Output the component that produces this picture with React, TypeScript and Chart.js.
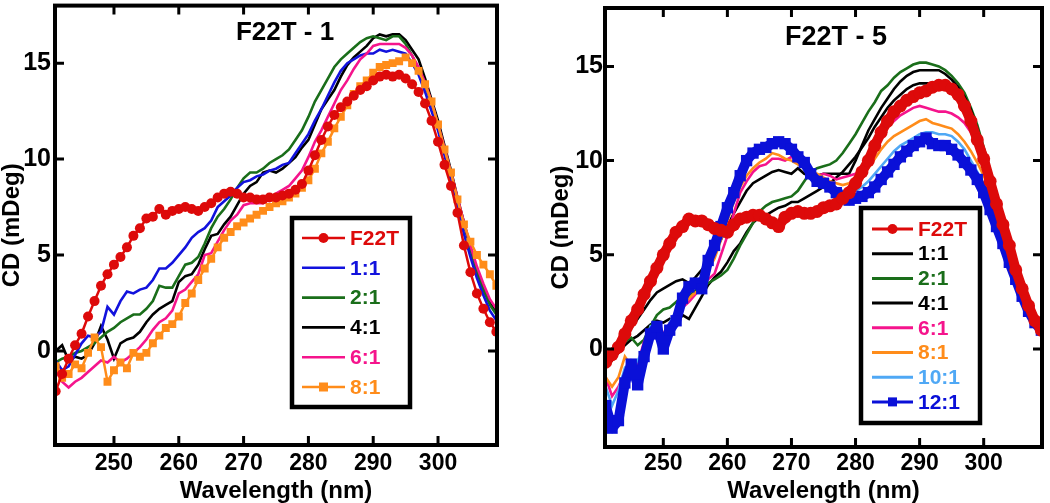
import React, { useEffect, useRef } from "react";
import { Chart, registerables } from "chart.js";

Chart.register(...registerables);

// ---------------- DATA ----------------
const wavelengths = [
  241, 242, 243, 244, 245, 246, 247, 248, 249, 250,
  251, 252, 253, 254, 255, 256, 257, 258, 259, 260,
  261, 262, 263, 264, 265, 266, 267, 268, 269, 270,
  271, 272, 273, 274, 275, 276, 277, 278, 279, 280,
  281, 282, 283, 284, 285, 286, 287, 288, 289, 290,
  291, 292, 293, 294, 295, 296, 297, 298, 299, 300,
  301, 302, 303, 304, 305, 306, 307, 308, 309,
];
const xTickValues = [250, 260, 270, 280, 290, 300];
const yTickValues = [0, 5, 10, 15];

// Left panel: F22T - 1
const leftTitle = "F22T - 1";
const leftLabels = ["F22T", "1:1", "2:1", "4:1", "6:1", "8:1"];
const leftF22T = [
  -2.1, -1.2, -0.4, 0.3, 0.9, 1.8, 2.6, 3.4, 4.0, 4.5,
  4.9, 5.4, 6.0, 6.4, 6.9, 7.0, 7.4, 7.1, 7.3, 7.4,
  7.5, 7.4, 7.3, 7.5, 7.7, 8.0, 8.2, 8.3, 8.2, 8.0,
  8.0, 7.9, 7.9, 8.0, 8.0, 8.1, 8.2, 8.4, 8.7, 9.4,
  10.2, 11.0, 11.7, 12.3, 12.7, 13.0, 13.3, 13.6, 13.8, 14.1,
  14.3, 14.4, 14.3, 14.4, 14.2, 13.9, 13.5, 12.9, 12.0, 10.9,
  9.7, 8.6, 7.2, 5.5, 4.1, 3.0, 2.2, 1.5, 1.0,
];
const left1to1 = [
  -0.5, -1.0, -0.8, -0.2, 0.4, 0.8, 0.7, 1.0, 2.3, 1.9,
  2.6, 3.1, 3.0, 3.2, 3.3, 3.7, 4.3, 4.3, 4.6, 5.0,
  5.4, 5.9, 6.2, 6.4, 6.8, 7.5, 7.8, 8.1, 8.5, 8.8,
  8.9, 9.1, 9.2, 9.4, 9.5, 9.7, 9.8, 10.3, 10.8, 11.3,
  12.0, 12.6, 13.3, 14.0, 14.6, 15.0, 15.2, 15.4, 15.5, 15.5,
  15.7, 15.6, 15.7, 15.6, 15.5, 15.0, 14.4, 13.5, 12.5, 11.5,
  10.2, 8.9, 7.5, 6.1, 4.9, 3.8, 2.9, 2.1, 1.6,
];
const left2to1 = [
  -0.6, -0.4, -0.3, -0.1, 0.0, 0.2, 0.4, 0.7, 1.0, 1.2,
  1.5, 1.7, 1.9, 1.9, 2.2, 2.6, 3.4, 3.3, 3.3, 3.9,
  4.5, 4.6, 4.9, 5.6, 6.4, 7.0, 7.4, 7.9, 8.5, 9.0,
  9.3, 9.3, 9.5, 9.8, 10.0, 10.2, 10.5, 11.0, 11.5, 12.2,
  13.0, 13.6, 14.2, 14.8, 15.2, 15.5, 15.8, 16.1, 16.3, 16.4,
  16.3, 16.2, 16.4, 16.4, 16.0, 15.4, 14.7, 13.9, 12.9, 11.8,
  10.6, 9.3, 7.9, 6.6, 5.3, 4.1, 3.2, 2.4, 1.9,
];
const left4to1 = [
  0.0, 0.3, -0.5, -0.3, -0.4, -0.2, 0.4, 1.3, 0.6, -0.4,
  0.4, 0.6, 0.7, 1.0, 1.5, 1.9, 2.2, 2.4, 2.6, 3.6,
  3.9, 4.0, 4.5, 5.3, 6.0, 6.1, 6.6, 7.0, 7.6, 8.2,
  8.6, 8.8, 9.3, 9.4, 9.3, 9.5, 9.8, 10.1, 10.6, 11.0,
  11.8, 12.6, 13.1, 13.6, 14.3, 14.9, 15.3, 15.6, 15.9, 16.3,
  16.5, 16.4, 16.5, 16.5, 16.2, 15.7, 15.2, 14.2, 13.1, 12.0,
  10.7, 9.4, 8.0, 6.7, 5.4, 4.2, 3.2, 2.5, 2.0,
];
const left6to1 = [
  -1.0, -1.6, -1.9, -1.6, -1.4, -1.1, -0.8, -0.5, -0.6, -0.3,
  -0.6, -0.4, -0.1, 0.2, 0.6, 1.1, 1.5, 1.7, 2.1, 3.0,
  3.2, 3.6, 4.0, 5.0, 5.1, 5.7, 6.3, 6.8, 7.1, 7.6,
  7.7, 7.7, 7.7, 7.9, 8.2, 8.4, 8.6, 9.0, 9.4, 10.1,
  10.9, 11.5, 12.2, 12.9, 13.6, 14.1, 14.7, 15.2, 15.5, 15.9,
  16.0, 16.0, 16.0, 16.0, 15.8, 15.4, 14.8, 14.0, 13.0, 11.8,
  10.6, 9.3, 8.0, 6.7, 5.5, 4.4, 3.5, 2.7, 2.2,
];
const left8to1 = [
  -0.8, -1.4, -1.2, -0.7, -0.9, -0.1, 0.7, 0.2, -1.6, -1.0,
  -0.6, -0.9, -0.1, -0.3, -0.1, 0.4, 0.8, 1.2, 1.4, 1.8,
  2.5, 3.0, 3.7, 4.3, 4.8, 5.4, 5.9, 6.2, 6.5, 6.7,
  6.9, 7.1, 7.3, 7.5, 7.7, 7.8, 8.0, 8.2, 8.5, 8.9,
  9.5, 10.3, 10.9, 11.6, 12.2, 12.8, 13.4, 13.8, 14.1, 14.5,
  14.8, 14.9, 15.0, 15.1, 15.3, 15.0, 14.6, 13.9, 13.0, 11.8,
  10.5, 9.3, 7.9, 6.6, 5.7, 5.0, 4.5, 4.0, 3.4,
];

// Right panel: F22T - 5
const rightTitle = "F22T - 5";
const rightLabels = ["F22T", "1:1", "2:1", "4:1", "6:1", "8:1", "10:1", "12:1"];
const rightF22T = [
  -0.7, -0.3, 0.1, 0.8, 1.5, 2.1, 2.9, 3.6, 4.3, 5.0,
  5.6, 6.2, 6.5, 6.9, 6.8, 6.8, 6.6, 6.4, 6.3, 6.2,
  6.6, 6.9, 7.0, 7.1, 7.1, 6.9, 6.7, 6.5, 7.0, 7.2,
  7.3, 7.2, 7.2, 7.3, 7.5, 7.6, 7.7, 8.0, 8.3, 8.8,
  9.4, 10.0, 10.8, 11.5, 12.1, 12.6, 12.9, 13.2, 13.4, 13.6,
  13.7, 13.9, 14.0, 14.0, 13.8, 13.5, 12.9, 12.1, 11.1, 10.1,
  8.9, 7.7, 6.6, 5.5, 4.2, 3.2, 2.3, 1.5, 1.0,
];
const right1to1 = [
  -1.0, -0.6, -0.2, 0.2, 0.5, 0.7, 1.0, 1.3, 1.5, 1.4,
  1.6, 1.3, 1.8, 1.6, 2.2, 2.8, 3.4, 3.8, 4.1, 4.6,
  5.2, 5.6, 6.2, 6.7, 7.0, 7.1, 7.3, 7.5, 7.6, 7.8,
  7.8, 8.0, 8.2, 8.4, 8.6, 8.8, 9.1, 9.4, 9.8, 10.2,
  10.7, 11.2, 11.8, 12.3, 12.8, 13.2, 13.5, 13.8, 14.0, 14.1,
  14.1, 14.1, 14.1, 14.0, 13.8, 13.5, 13.0, 12.2, 11.2, 10.1,
  8.9, 7.7, 6.5, 5.3, 4.2, 3.2, 2.3, 1.6, 1.1,
];
const right2to1 = [
  -0.6, -0.2, 0.1, 0.4, 0.6, 0.2, 0.5, 1.2, 1.8, 2.1,
  2.2, 2.5, 2.8, 2.8, 3.1, 3.3, 3.5, 3.7, 3.9, 4.2,
  4.8, 5.5, 6.1, 6.7, 7.3, 7.6, 7.8, 7.9, 8.0, 8.1,
  8.4, 8.9, 9.4, 9.6, 9.7, 9.8, 10.0, 10.4, 10.9, 11.4,
  12.0, 12.6, 13.1, 13.7, 14.0, 14.4, 14.7, 14.9, 15.1, 15.2,
  15.2, 15.1, 15.0, 14.8, 14.5, 14.1, 13.6, 12.8, 11.9, 10.7,
  9.5, 8.1, 6.8, 5.5, 4.3, 3.2, 2.3, 1.5, 1.0,
];
const right4to1 = [
  -0.5, 0.0, 0.4, 0.7, 1.1, 1.6, 2.1, 2.6, 3.0, 3.2,
  3.4, 3.6, 3.7, 3.5, 3.8, 4.2, 4.6, 5.1, 5.8, 6.5,
  7.2, 7.8, 8.4, 8.8, 9.0, 9.2, 9.4, 9.5, 9.4, 9.3,
  9.6, 9.3, 9.2, 9.2, 9.3, 9.3, 9.3, 9.3, 9.3, 10.0,
  10.8, 11.6, 12.2, 12.8, 13.3, 13.8, 14.2, 14.5, 14.7, 14.8,
  14.8, 14.8, 14.8, 14.6, 14.3, 13.9, 13.4, 12.7, 11.7, 10.5,
  9.2, 7.9, 6.6, 5.4, 4.2, 3.1, 2.2, 1.5, 1.1,
];
const right6to1 = [
  -1.5, -2.5, -2.0, -1.2, -0.6, -0.8, 0.4, 0.9, 1.0, 0.8,
  1.4, 1.8, 2.2, 2.5, 2.9, 3.3, 3.7, 4.0, 5.0, 6.0,
  7.2, 8.3, 8.9, 9.4, 9.7, 9.8, 10.1, 10.1, 10.0, 10.2,
  9.9, 9.6, 9.3, 9.2, 9.3, 9.2, 9.0, 9.1, 9.2, 9.3,
  9.6, 10.0, 10.6, 11.2, 11.8, 12.1, 12.4, 12.6, 12.8, 12.9,
  12.8, 12.7, 12.6, 12.6, 12.5, 12.3, 12.0, 11.5, 10.8, 10.0,
  8.9, 7.8, 6.6, 5.4, 4.3, 3.2, 2.3, 1.6, 1.1,
];
const right8to1 = [
  -1.5, -2.0, -1.5, -0.4, -0.9, -1.2, 0.2, 0.7, 1.1, 0.5,
  1.2, 1.7, 2.3, 2.7, 3.0, 3.1, 4.2, 4.8, 5.8, 6.8,
  7.8, 8.6, 9.2, 9.6, 9.9, 10.1, 10.4, 10.3, 10.1, 10.0,
  9.8, 9.6, 9.4, 9.3, 9.1, 8.9, 8.8, 8.7, 8.8, 9.0,
  9.3, 9.6, 10.1, 10.6, 11.0, 11.3, 11.5, 11.7, 11.9, 12.1,
  12.2, 12.0, 11.9, 11.8, 11.7, 11.4, 11.0, 10.5, 9.9, 9.2,
  8.3, 7.3, 6.3, 5.2, 4.1, 3.1, 2.3, 1.6, 1.1,
];
const right10to1 = [
  -2.0, -3.0, -2.2, -1.0, -1.2, -0.6, 0.0, 1.2, 1.0, 0.6,
  1.4, 2.0, 2.4, 3.0, 3.3, 3.6, 4.6, 5.6, 6.6, 7.6,
  8.5, 9.3, 10.0, 10.4, 10.7, 10.9, 11.0, 11.0, 10.8, 10.5,
  10.1, 9.8, 9.4, 9.1, 8.9, 8.7, 8.5, 8.4, 8.3, 8.4,
  8.6, 8.9, 9.3, 9.7, 10.1, 10.5, 10.8, 11.0, 11.2, 11.4,
  11.5, 11.5, 11.4, 11.4, 11.3, 11.0, 10.6, 10.0, 9.4, 8.7,
  7.8, 6.8, 5.8, 4.8, 3.8, 2.9, 2.1, 1.5, 1.1,
];
const right12to1 = [
  -3.0, -4.2, -3.8, -1.8, -0.8, -1.9, -0.4, 0.8, 1.2, 0.0,
  1.0, 1.5, 2.7, 3.3, 3.5, 3.2, 4.7, 5.5, 6.5, 7.5,
  8.3, 9.2, 10.0, 10.4, 10.6, 10.7, 10.9, 11.0, 10.9, 10.6,
  10.2, 9.9, 9.3, 8.9, 8.8, 8.6, 8.3, 8.1, 7.9, 8.0,
  8.1, 8.3, 8.6, 9.0, 9.4, 9.8, 10.2, 10.5, 10.8, 11.0,
  11.2, 10.9, 10.8, 10.8, 10.6, 10.3, 9.9, 9.5, 9.0, 8.3,
  7.4, 6.5, 5.6, 4.6, 3.7, 2.8, 2.0, 1.4, 1.0,
];

// ---------------- STYLE ----------------
const FONT = "'Liberation Sans', Arial, Helvetica, sans-serif";
const RED = "#dd0a0a";
const BLUE = "#1212dd";
const GREEN = "#1a6e1a";
const BLACK = "#000000";
const PINK = "#f5148c";
const ORANGE = "#ff8c1a";
const LIGHTBLUE = "#4fa8f5";
const DEEPBLUE = "#0a10d8";

type Kind = "line" | "circle" | "square" | "bandCircle" | "bandSquare";

function makeDataset(label: string, values: number[], color: string, kind: Kind, order: number) {
  const ds: any = {
    label,
    data: wavelengths.map((x, i) => ({ x, y: values[i] })),
    borderColor: color,
    backgroundColor: color,
    pointBackgroundColor: color,
    pointBorderColor: color,
    pointBorderWidth: 0,
    borderWidth: 2.6,
    pointRadius: 0,
    pointHoverRadius: 0,
    tension: 0,
    fill: false,
    order,
    kind,
  };
  if (kind === "circle") {
    ds.pointRadius = 5;
    ds.pointStyle = "circle";
    ds.borderWidth = 2.5;
  } else if (kind === "square") {
    ds.pointRadius = 5.6;
    ds.pointStyle = "rect";
    ds.borderWidth = 2.5;
  } else if (kind === "bandCircle") {
    ds.pointRadius = 6.5;
    ds.pointStyle = "circle";
    ds.borderWidth = 10;
    ds.borderJoinStyle = "round";
  } else if (kind === "bandSquare") {
    ds.pointRadius = 8;
    ds.pointStyle = "rect";
    ds.borderWidth = 10;
    ds.borderJoinStyle = "round";
  }
  return ds;
}

const framePlugin = {
  id: "frame",
  afterDatasetsDraw(chart: any, _args: any, opts: any) {
    const { ctx, chartArea: a, scales } = chart;
    ctx.save();
    ctx.strokeStyle = "#000";
    ctx.lineCap = "butt";
    // frame
    ctx.lineWidth = 4;
    ctx.strokeRect(a.left, a.top, a.right - a.left, a.bottom - a.top);
    // inward ticks
    const L = 9;
    ctx.lineWidth = 3;
    ctx.beginPath();
    for (const v of xTickValues) {
      const x = scales.x.getPixelForValue(v);
      ctx.moveTo(x, a.bottom);
      ctx.lineTo(x, a.bottom - L);
      ctx.moveTo(x, a.top);
      ctx.lineTo(x, a.top + L);
    }
    for (const v of yTickValues) {
      const y = scales.y.getPixelForValue(v);
      ctx.moveTo(a.left, y);
      ctx.lineTo(a.left + L, y);
      ctx.moveTo(a.right, y);
      ctx.lineTo(a.right - L, y);
    }
    ctx.stroke();

    // title inside the plot
    ctx.fillStyle = "#000";
    ctx.font = `bold ${opts.titleSize}px ${FONT}`;
    ctx.textAlign = "center";
    ctx.textBaseline = "alphabetic";
    ctx.fillText(opts.title, opts.titleX, opts.titleY + opts.titleSize * 0.358);

    // legend
    const lg = opts.legend;
    ctx.fillStyle = "#fff";
    ctx.fillRect(lg.x1, lg.y1, lg.x2 - lg.x1, lg.y2 - lg.y1);
    ctx.lineWidth = 4.5;
    ctx.strokeStyle = "#000";
    ctx.strokeRect(lg.x1, lg.y1, lg.x2 - lg.x1, lg.y2 - lg.y1);
    const dsets = chart.data.datasets;
    dsets.forEach((ds: any, i: number) => {
      const y = lg.rowY + i * lg.rowStep;
      ctx.strokeStyle = ds.borderColor;
      ctx.fillStyle = ds.borderColor;
      ctx.lineWidth = lg.lineWidth;
      ctx.beginPath();
      ctx.moveTo(lg.s1, y);
      ctx.lineTo(lg.s2, y);
      ctx.stroke();
      const mx = (lg.s1 + lg.s2) / 2;
      if (ds.kind === "circle" || ds.kind === "bandCircle") {
        ctx.beginPath();
        ctx.arc(mx, y, 5, 0, Math.PI * 2);
        ctx.fill();
      } else if (ds.kind === "square" || ds.kind === "bandSquare") {
        ctx.fillRect(mx - 4.5, y - 4.5, 9, 9);
      }
      ctx.font = `bold ${lg.fontSize}px ${FONT}`;
      ctx.textAlign = "left";
      ctx.textBaseline = "middle";
      ctx.fillText(ds.label, lg.textX, y + 1);
    });
    ctx.restore();
  },
};

function buildConfig(p: any) {
  return {
    type: "line",
    data: { datasets: p.datasets },
    plugins: [framePlugin],
    options: {
      responsive: false,
      animation: false,
      events: [],
      layout: { padding: p.padding },
      plugins: {
        legend: { display: false },
        tooltip: { enabled: false },
        title: { display: false },
        frame: p.frame,
      },
      scales: {
        x: {
          type: "linear",
          min: p.xMin,
          max: p.xMax,
          afterBuildTicks: (s: any) => {
            s.ticks = xTickValues.map((v) => ({ value: v }));
          },
          afterFit: (s: any) => {
            s.height = p.xAxisHeight;
            s.paddingLeft = 0;
            s.paddingRight = 0;
            s.paddingTop = 0;
            s.paddingBottom = 0;
          },
          grid: { display: false, drawTicks: false },
          border: { display: false },
          ticks: {
            color: "#000",
            padding: p.xTickPad,
            maxRotation: 0,
            autoSkip: false,
            font: { family: FONT, size: 23, weight: "bold" },
          },
          title: {
            display: true,
            text: "Wavelength (nm)",
            color: "#000",
            padding: { top: 0, bottom: 0 },
            font: { family: FONT, size: 24, weight: "bold", lineHeight: 1 },
          },
        },
        y: {
          type: "linear",
          min: p.yMin,
          max: p.yMax,
          afterBuildTicks: (s: any) => {
            s.ticks = yTickValues.map((v) => ({ value: v }));
          },
          afterFit: (s: any) => {
            s.width = p.yAxisWidth;
            s.paddingLeft = 0;
            s.paddingRight = 0;
            s.paddingTop = 0;
            s.paddingBottom = 0;
          },
          grid: { display: false, drawTicks: false },
          border: { display: false },
          ticks: {
            color: "#000",
            padding: p.yTickPad,
            font: { family: FONT, size: 25, weight: "bold" },
          },
          title: {
            display: true,
            text: "CD (mDeg)",
            color: "#000",
            padding: { top: 0, bottom: 0 },
            font: { family: FONT, size: 24, weight: "bold", lineHeight: 1 },
          },
        },
      },
    },
  };
}

const leftConfig = () =>
  buildConfig({
    datasets: [
      makeDataset(leftLabels[0], leftF22T, RED, "circle", 0),
      makeDataset(leftLabels[1], left1to1, BLUE, "line", 3),
      makeDataset(leftLabels[2], left2to1, GREEN, "line", 4),
      makeDataset(leftLabels[3], left4to1, BLACK, "line", 5),
      makeDataset(leftLabels[4], left6to1, PINK, "line", 2),
      makeDataset(leftLabels[5], left8to1, ORANGE, "square", 1),
    ],
    padding: { left: 0, right: 28, top: 2, bottom: 0 },
    xMin: 240.9,
    xMax: 309.1,
    yMin: -4.9,
    yMax: 18.0,
    xAxisHeight: 58,
    yAxisWidth: 55,
    xTickPad: 5,
    yTickPad: 4,
    frame: {
      title: leftTitle,
      titleX: 285,
      titleY: 30.5,
      titleSize: 26,
      legend: {
        x1: 292, y1: 218, x2: 410, y2: 407,
        s1: 302, s2: 345, textX: 350,
        rowY: 238, rowStep: 29.8, fontSize: 21, lineWidth: 2.6,
      },
    },
  });

const rightConfig = () =>
  buildConfig({
    datasets: [
      makeDataset(rightLabels[0], rightF22T, RED, "bandCircle", 0),
      makeDataset(rightLabels[1], right1to1, BLACK, "line", 7),
      makeDataset(rightLabels[2], right2to1, GREEN, "line", 6),
      makeDataset(rightLabels[3], right4to1, BLACK, "line", 5),
      makeDataset(rightLabels[4], right6to1, PINK, "line", 4),
      makeDataset(rightLabels[5], right8to1, ORANGE, "line", 3),
      makeDataset(rightLabels[6], right10to1, LIGHTBLUE, "line", 2),
      makeDataset(rightLabels[7], right12to1, DEEPBLUE, "bandSquare", 1),
    ],
    padding: { left: 24, right: 5, top: 4, bottom: 0 },
    xMin: 240.9,
    xMax: 309.1,
    yMin: -5.2,
    yMax: 18.1,
    xAxisHeight: 56,
    yAxisWidth: 56,
    xTickPad: 3,
    yTickPad: 2,
    frame: {
      title: rightTitle,
      titleX: 311,
      titleY: 35,
      titleSize: 27,
      legend: {
        x1: 336, y1: 208, x2: 455, y2: 423,
        s1: 347, s2: 388, textX: 393,
        rowY: 229, rowStep: 24.7, fontSize: 21, lineWidth: 3,
      },
    },
  });

function Panel({ makeConfig, left }: { makeConfig: () => any; left: number }) {
  const ref = useRef<HTMLCanvasElement>(null);
  useEffect(() => {
    const chart = new Chart(ref.current as HTMLCanvasElement, makeConfig());
    return () => chart.destroy();
  }, []);
  return (
    <canvas
      ref={ref}
      width={525}
      height={503}
      style={{ position: "absolute", left, top: 0, width: 525, height: 503, display: "block" }}
    />
  );
}

export default function App() {
  return (
    <div
      style={{
        position: "fixed",
        left: 0,
        top: 0,
        width: 1050,
        height: 503,
        background: "#ffffff",
        overflow: "hidden",
      }}
    >
      <Panel makeConfig={leftConfig} left={0} />
      <Panel makeConfig={rightConfig} left={525} />
    </div>
  );
}
